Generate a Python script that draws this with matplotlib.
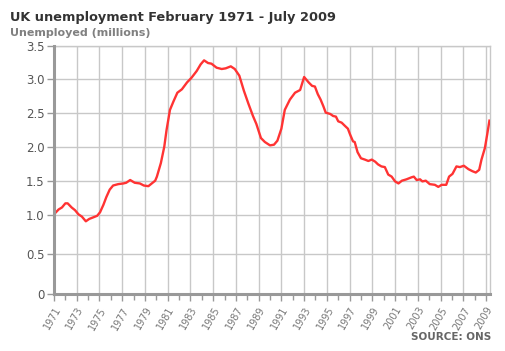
import numpy as np
import matplotlib
matplotlib.use("Agg")
import matplotlib.pyplot as plt
from matplotlib.ticker import MultipleLocator

# ---- data ----
years = [1971.0, 1971.4, 1971.7, 1972.0, 1972.2, 1972.55, 1972.85, 1973.15, 1973.45, 1973.8,
         1974.1, 1974.45, 1974.8, 1975.05, 1975.35, 1975.6, 1975.9, 1976.2, 1976.65, 1977.1,
         1977.35, 1977.7, 1978.1, 1978.55, 1978.9, 1979.3, 1979.6, 1979.9, 1980.05, 1980.4,
         1980.7, 1980.9, 1981.2, 1981.5, 1981.85, 1982.25, 1982.7, 1983.1, 1983.55, 1983.9,
         1984.2, 1984.55, 1984.85, 1985.3, 1985.75, 1986.1, 1986.55, 1986.9, 1987.3, 1987.7,
         1988.1, 1988.5, 1988.8, 1989.2, 1989.55, 1990.0, 1990.35, 1990.65, 1991.0, 1991.3,
         1991.75, 1992.2, 1992.65, 1993.0, 1993.4, 1993.7, 1993.95, 1994.2, 1994.45, 1994.7,
         1994.9, 1995.3, 1995.55, 1995.8, 1996.0, 1996.3, 1996.6, 1996.85, 1997.05, 1997.3,
         1997.45, 1997.7, 1998.0, 1998.35, 1998.65, 1998.95, 1999.25, 1999.5, 1999.8, 2000.1,
         2000.4, 2000.7, 2001.0, 2001.3, 2001.6, 2002.0, 2002.45, 2002.65, 2002.9, 2003.2,
         2003.4, 2003.7, 2004.05, 2004.5, 2004.8, 2005.1, 2005.5, 2005.75, 2006.05, 2006.4,
         2006.7, 2007.05, 2007.45, 2007.8, 2008.1, 2008.4, 2008.6, 2008.9, 2009.1, 2009.3]
unemployed = [1.01, 1.08, 1.11, 1.17, 1.17, 1.11, 1.07, 1.01, 0.98, 0.92,
              0.95, 0.97, 0.99, 1.04, 1.15, 1.26, 1.37, 1.43, 1.45, 1.46,
              1.47, 1.51, 1.47, 1.46, 1.43, 1.42, 1.46, 1.50, 1.56, 1.76,
              2.00, 2.25, 2.55, 2.67, 2.80, 2.85, 2.95, 3.02, 3.12, 3.22,
              3.28, 3.24, 3.23, 3.17, 3.15, 3.16, 3.19, 3.15, 3.05, 2.83,
              2.64, 2.46, 2.34, 2.13, 2.07, 2.02, 2.03, 2.09, 2.27, 2.55,
              2.70, 2.80, 2.84, 3.03, 2.95, 2.90, 2.89, 2.78, 2.70, 2.60,
              2.51, 2.49, 2.46, 2.45, 2.38, 2.36, 2.31, 2.27, 2.18, 2.08,
              2.07, 1.92, 1.83, 1.81, 1.79, 1.81, 1.78, 1.74, 1.71, 1.70,
              1.59, 1.56, 1.49, 1.46, 1.50, 1.52, 1.55, 1.56, 1.51, 1.52,
              1.49, 1.50, 1.45, 1.44, 1.41, 1.44, 1.44, 1.56, 1.60, 1.71,
              1.70, 1.72, 1.67, 1.64, 1.62, 1.66, 1.81, 1.98, 2.18, 2.39]
y_ticks = [0, 0.5, 1.0, 1.5, 2.0, 2.5, 3.0, 3.5]
y_tick_labels = ["0", "0.5", "1.0", "1.5", "2.0", "2.5", "3.0", "3.5"]
x_ticks = list(range(1971, 2010, 2))

title = "UK unemployment February 1971 - July 2009"
subtitle = "Unemployed (millions)"
source = "SOURCE: ONS"

# ---- styling / layout ----
W, H, DPI = 506, 351, 100
fig = plt.figure(figsize=(W / DPI, H / DPI), dpi=DPI)
ax = fig.add_axes([54 / W, 1 - 294 / H, (490 - 54) / W, (294 - 45.7) / H])

# the reference uses an uneven vertical scale (lower gridlines spaced wider)
_pos = np.array([0, 39.7, 79, 113.3, 147.3, 180.7, 215, 248.3])
_val = np.array(y_ticks, dtype=float)
def fwd(v):
    v = np.asarray(v, dtype=float)
    return np.where(v < 0, v * 79.4,
                    np.where(v > 3.5, 248.3 + (v - 3.5) * 66.6, np.interp(v, _val, _pos)))
def inv(p):
    p = np.asarray(p, dtype=float)
    return np.where(p < 0, p / 79.4,
                    np.where(p > 248.3, 3.5 + (p - 248.3) / 66.6, np.interp(p, _pos, _val)))
ax.set_yscale('function', functions=(fwd, inv))

ax.plot(years, unemployed, color='#ff3333', lw=1.7, solid_joinstyle='round', zorder=3)

ax.set_xlim(1971, 2009.35)
ax.set_ylim(0, 3.5)
ax.set_xticks(x_ticks)
ax.set_xticklabels([str(x) for x in x_ticks], rotation=60, ha='right', va='top',
                   rotation_mode='anchor', fontsize=7, color='#777777')
ax.xaxis.set_minor_locator(MultipleLocator(1))
ax.set_yticks(y_ticks)
ax.set_yticklabels(y_tick_labels, fontsize=8.5, color='#555555')
ax.yaxis.set_minor_locator(matplotlib.ticker.NullLocator())

ax.grid(True, which='major', color='#c8c8c8', lw=1.0)
ax.set_axisbelow(True)
for s in ['top', 'right']:
    ax.spines[s].set_color('#c8c8c8')
    ax.spines[s].set_linewidth(1.0)
for s in ['left', 'bottom']:
    ax.spines[s].set_color('#999999')
    ax.spines[s].set_linewidth(2.2)
    ax.spines[s].set_zorder(4)
ax.tick_params(axis='x', which='major', length=5, width=1, color='#999999', pad=3)
ax.tick_params(axis='x', which='minor', length=4, width=1, color='#999999')
ax.tick_params(axis='y', which='major', length=5, width=1, color='#999999', pad=2)

fig.text(10 / W, 1 - 18 / H, title, fontsize=9.3, fontweight='bold', color='#333333',
         ha='left', va='center')
fig.text(10 / W, 1 - 33 / H, subtitle, fontsize=8, fontweight='bold', color='#808080',
         ha='left', va='center')
fig.text(491 / W, 1 - 337 / H, source, fontsize=7.5, fontweight='bold', color='#666666',
         ha='right', va='center')

fig.savefig('out.png', dpi=DPI)
